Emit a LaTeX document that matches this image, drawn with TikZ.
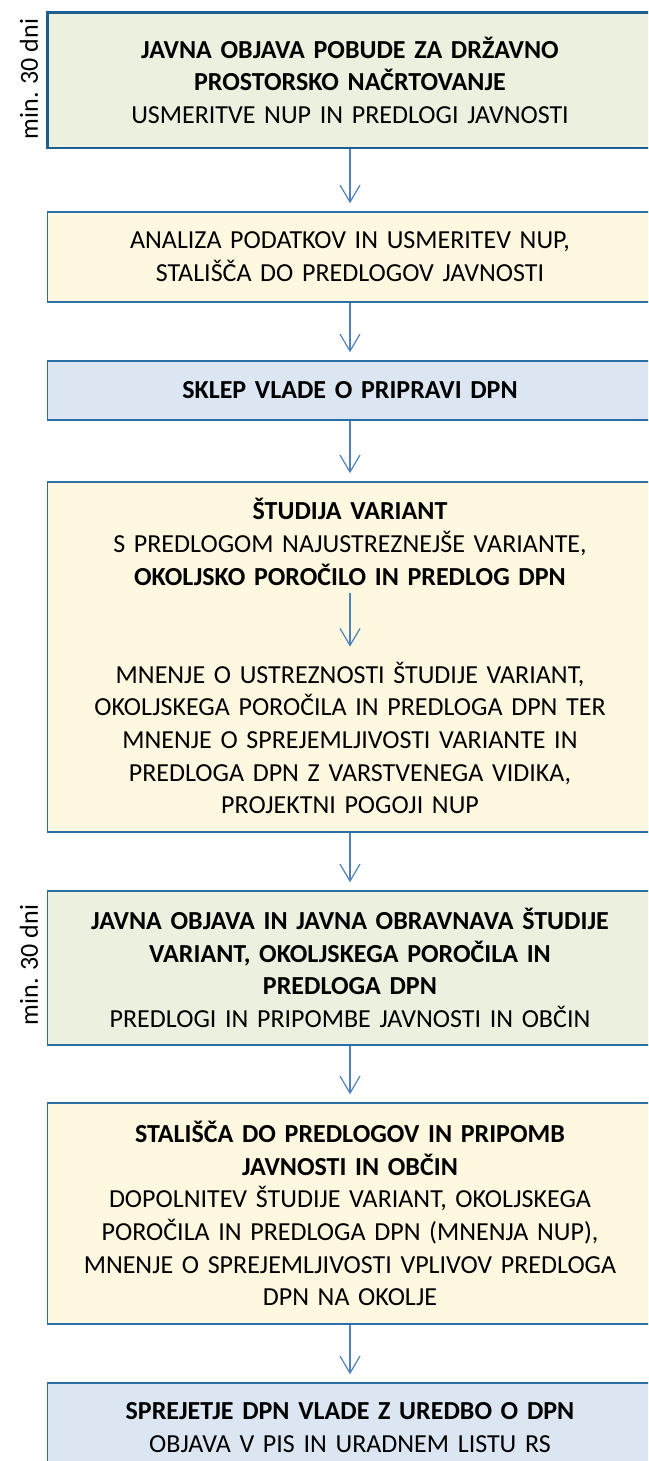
\documentclass[tikz,border=0pt]{standalone}
\usepackage{fontspec}
\setmainfont{Carlito}
\usetikzlibrary{arrows.meta}

\definecolor{zelena}{HTML}{EBF1DE}
\definecolor{rumena}{HTML}{FEF8E0}
\definecolor{modra}{HTML}{DCE6F2}
\definecolor{rob}{HTML}{2C6FA8}
\definecolor{robtemen}{HTML}{1D5E91}
\definecolor{puscica}{HTML}{4F81BD}

\begin{document}
\begin{tikzpicture}[x=1pt, y=-1pt,
  every node/.style={font=\fontsize{26}{32.7}\selectfont},
  box/.style={draw=rob, line width=1.5pt, text width=580pt, minimum width=605pt, align=center, inner sep=0pt},
  besedilo/.style={text width=580pt, align=center, inner sep=0pt},
  arr/.style={draw=puscica, line width=1.2pt, -{Straight Barb[length=17pt,width=20pt]}, shorten >=8pt}]
  \useasboundingbox (0,0) rectangle (648,1461);
  \clip (0,0) rectangle (648,1461);

  \node[box, fill=zelena, draw=robtemen, line width=2.8pt, minimum height=135.3pt] (pobuda) at (350,80.4)
    {\textbf{JAVNA OBJAVA POBUDE ZA DRŽAVNO}\\ \textbf{PROSTORSKO NAČRTOVANJE}\\ USMERITVE NUP IN PREDLOGI JAVNOSTI};
  \node[box, fill=rumena, minimum height=90pt] (analiza) at (350,257)
    {ANALIZA PODATKOV IN USMERITEV NUP,\\ STALIŠČA DO PREDLOGOV JAVNOSTI};
  \node[box, fill=modra, minimum height=59pt] (sklep) at (350,390.5)
    {\textbf{SKLEP VLADE O PRIPRAVI DPN}};
  \node[box, fill=rumena, minimum height=350pt] (studije) at (350,657) {};
  \node[besedilo] (studija) at (350,542)
    {\textbf{ŠTUDIJA VARIANT}\\ S PREDLOGOM NAJUSTREZNEJŠE VARIANTE,\\ \textbf{OKOLJSKO POROČILO IN PREDLOG DPN}};
  \node[besedilo] (mnenje) at (350,738)
    {MNENJE O USTREZNOSTI ŠTUDIJE VARIANT,\\ OKOLJSKEGA POROČILA IN PREDLOGA DPN TER\\ MNENJE O SPREJEMLJIVOSTI VARIANTE IN\\ PREDLOGA DPN Z VARSTVENEGA VIDIKA,\\ PROJEKTNI POGOJI NUP};
  \node[box, fill=zelena, minimum height=154pt] (objava) at (350,968)
    {\textbf{JAVNA OBJAVA IN JAVNA OBRAVNAVA ŠTUDIJE}\\ \textbf{VARIANT, OKOLJSKEGA POROČILA IN}\\ \textbf{PREDLOGA DPN}\\ PREDLOGI IN PRIPOMBE JAVNOSTI IN OBČIN};
  \node[box, fill=rumena, minimum height=221pt] (stalisca) at (350,1213.5)
    {\textbf{STALIŠČA DO PREDLOGOV IN PRIPOMB}\\ \textbf{JAVNOSTI IN OBČIN}\\ DOPOLNITEV ŠTUDIJE VARIANT, OKOLJSKEGA\\ POROČILA IN PREDLOGA DPN (MNENJA NUP),\\ MNENJE O SPREJEMLJIVOSTI VPLIVOV PREDLOGA\\ DPN NA OKOLJE};
  \node[box, fill=modra, minimum height=89pt] (sprejetje) at (350,1427.5)
    {\textbf{SPREJETJE DPN VLADE Z UREDBO O DPN}\\ OBJAVA V PIS IN URADNEM LISTU RS};

  \node[rotate=90] (rok1) at (29,79) {min. 30 dni};
  \node[rotate=90] (rok2) at (29,965) {min. 30 dni};

  \draw[arr] (pobuda) -- (analiza);
  \draw[arr] (analiza) -- (sklep);
  \draw[arr] (sklep) -- (studije);
  \draw[arr, shorten <=7pt, shorten >=15pt] (studija) -- (mnenje);
  \draw[arr] (studije) -- (objava);
  \draw[arr] (objava) -- (stalisca);
  \draw[arr] (stalisca) -- (sprejetje);
\end{tikzpicture}
\end{document}
